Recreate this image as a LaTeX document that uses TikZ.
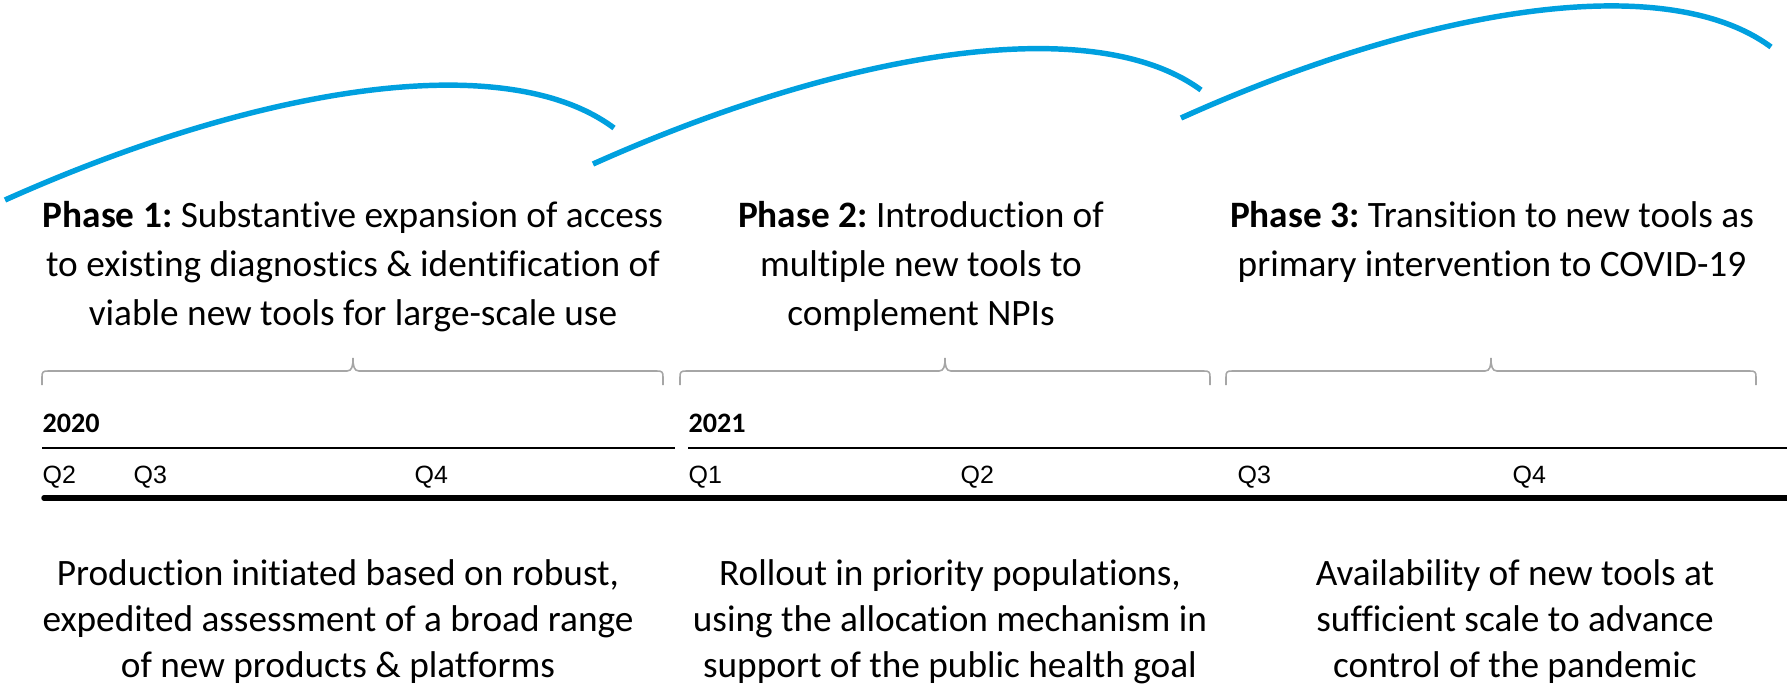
\documentclass[tikz,border=0pt]{standalone}
\usepackage{fontspec}
\setmainfont{Carlito}[Ligatures=NoCommon]
\newfontfamily\qfont{Liberation Sans}
\frenchspacing
\definecolor{arcblue}{RGB}{0,160,223}
\definecolor{bracegray}{RGB}{166,166,166}

\begin{document}
\begin{tikzpicture}[x=0.01cm, y=-0.01cm]
  \tikzset{
    phase/.style={anchor=north, align=center, inner sep=0pt, font=\fontsize{10.6}{13.9}\selectfont},
    goal/.style={anchor=north, align=center, inner sep=0pt, font=\fontsize{10.6}{13}\selectfont},
    yr/.style={anchor=base west, inner sep=0pt, font=\fontsize{8}{9}\selectfont\bfseries},
    qtr/.style={anchor=base west, inner sep=0pt, font=\fontsize{7.1}{8}\selectfont\qfont},
    span/.style={draw=bracegray, line width=0.45pt},
    wave/.style={draw=arcblue, line width=1.55pt}
  }
  \useasboundingbox (0,0) rectangle (1787,687);

  % Bogen boven de fasen
  \draw[wave] (5,200) .. controls (255,88) and (504,46) .. (614,128);
  \draw[wave] (593,164) .. controls (843,52) and (1092,10) .. (1201,90);
  \draw[wave] (1181,118) .. controls (1423,9) and (1664,-32) .. (1771,47);

  % Fasen
  \node[phase] (p1) at (353,201) {\textbf{Phase 1:} Substantive expansion of access\\
    to existing diagnostics \& identification of\\ viable new tools for large-scale use};
  \node[phase] (p2) at (921,201) {\textbf{Phase 2:} Introduction of\\
    multiple new tools to\\ complement NPIs};
  \node[phase] (p3) at (1492,201) {\textbf{Phase 3:} Transition to new tools as\\
    primary intervention to COVID-19};

  % Accolades
  \foreach \bl/\bm/\br in {42/353/663, 680/945/1210, 1226/1491/1756}
    \draw[span] (\bl,385) -- (\bl,377) .. controls (\bl,372) and (\bl+1,371) .. (\bl+6,371)
      -- (\bm-6,371) .. controls (\bm-1,371) and (\bm,366) .. (\bm,358)
      .. controls (\bm,366) and (\bm+1,371) .. (\bm+6,371)
      -- (\br-6,371) .. controls (\br-1,371) and (\br,372) .. (\br,377) -- (\br,385);

  % Jaren
  \node[yr] (y20) at (42,432) {2020};
  \node[yr] (y21) at (688,432) {2021};
  \draw[line width=0.57pt] (42,448) -- (675,448);
  \draw[line width=0.57pt] (688,448) -- (1787,448);

  % Kwartalen
  \foreach \qx/\qn [count=\i] in {42/Q2,133/Q3,414/Q4,688/Q1,960/Q2,1237/Q3,1512/Q4}
    \node[qtr] (q\i) at (\qx,483) {\qn};

  % Tijdlijn
  \coordinate (t0) at (44,498);
  \coordinate (t1) at (1787,498);
  \draw[line width=1.56pt, line cap=round] (t0) -- (t1);

  % Doelen
  \node[goal] (g1) at (338,559) {Production initiated based on robust,\\
    expedited assessment of a broad range\\ of new products \& platforms};
  \node[goal] (g2) at (950,559) {Rollout in priority populations,\\
    using the allocation mechanism in\\ support of the public health goal};
  \node[goal] (g3) at (1515,559) {Availability of new tools at\\
    sufficient scale to advance\\ control of the pandemic};
\end{tikzpicture}
\end{document}
